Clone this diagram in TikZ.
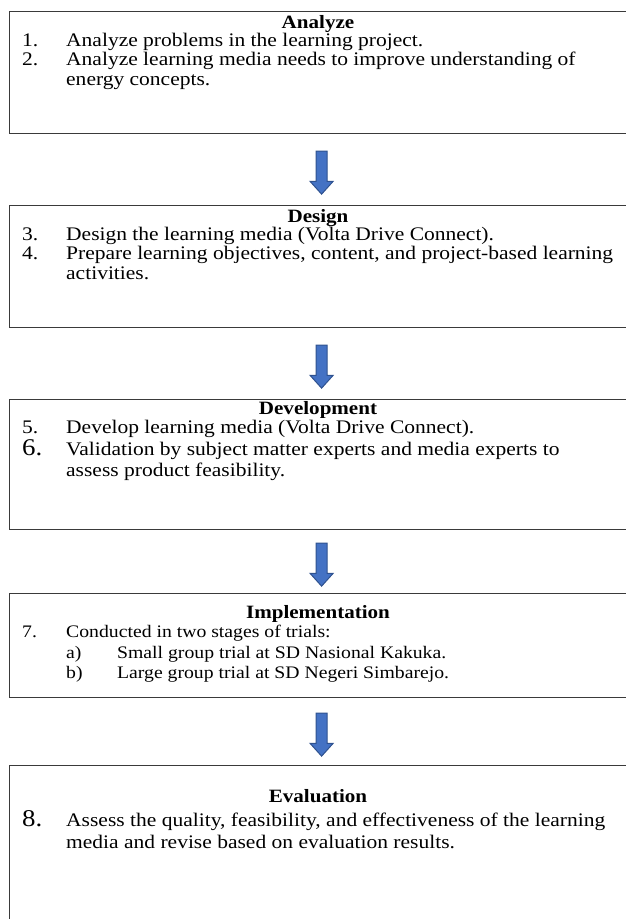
\documentclass[tikz,border=0pt]{standalone}
\usepackage{fontspec}
\setmainfont{Liberation Serif}[FakeStretch=1.12]
\usetikzlibrary{shapes.arrows,calc}
\definecolor{arrowfill}{HTML}{4472C4}
\definecolor{arrowline}{HTML}{2F528F}
\definecolor{frame}{HTML}{3A3A3A}
\begin{document}
\begin{tikzpicture}[x=1pt,y=1pt,
  every node/.style={inner sep=0pt, font=\fontsize{19.2}{22}\selectfont},
  stage/.style={draw=frame, line width=1.2pt, minimum width=624pt, anchor=north west},
  heading/.style={anchor=base, font=\fontsize{18.8}{22}\selectfont\bfseries},
  entry/.style={anchor=base west},
  smallentry/.style={anchor=base west, font=\fontsize{17.6}{20}\selectfont},
  bignum/.style={anchor=base west, font=\fontsize{24}{26}\selectfont},
  flowarrow/.style={single arrow, draw=arrowline, fill=arrowfill, line width=1pt,
    rotate=-90, inner xsep=0pt, inner ysep=5pt, single arrow head extend=6pt,
    single arrow tip angle=84, minimum height=43pt}
]
\useasboundingbox (0,0) rectangle (626,-919);
\clip (0,0) rectangle (626,-919);

% stage frames
\node[stage, minimum height=122pt] (analyze) at (9,-11) {};
\node[stage, minimum height=122pt] (design) at (9,-205) {};
\node[stage, minimum height=130pt] (develop) at (9,-399) {};
\node[stage, minimum height=104pt] (implement) at (9,-593) {};
\node[stage, minimum height=170pt] (evaluate) at (9,-765) {};

% Analyze
\node[heading] (h1) at (318,-28) {Analyze};
\node[entry] (n1) at (22,-46) {1.};
\node[entry] (s1) at (66,-46) {Analyze problems in the learning project.};
\node[entry] (n2) at (22,-65) {2.};
\node[entry] (s2) at (66,-65) {Analyze learning media needs to improve understanding of};
\node[entry] (s2b) at (66,-85) {energy concepts.};

% Design
\node[heading] (h2) at (318,-222) {Design};
\node[entry] (n3) at (22,-240) {3.};
\node[entry] (s3) at (66,-240) {Design the learning media (Volta Drive Connect).};
\node[entry] (n4) at (22,-259) {4.};
\node[entry] (s4) at (66,-259) {Prepare learning objectives, content, and project-based learning};
\node[entry] (s4b) at (66,-279) {activities.};

% Development
\node[heading] (h3) at (318,-414) {Development};
\node[entry] (n5) at (22,-433) {5.};
\node[entry] (s5) at (66,-433) {Develop learning media (Volta Drive Connect).};
\node[bignum] (n6) at (22,-455) {6.};
\node[entry] (s6) at (66,-455) {Validation by subject matter experts and media experts to};
\node[entry] (s6b) at (66,-476) {assess product feasibility.};

% Implementation
\node[heading] (h4) at (318,-618) {Implementation};
\node[smallentry] (n7) at (22,-637) {7.};
\node[smallentry] (s7) at (66,-637) {Conducted in two stages of trials:};
\node[smallentry] (na) at (66,-658) {a)};
\node[smallentry] (sa) at (117,-658) {Small group trial at SD Nasional Kakuka.};
\node[smallentry] (nb) at (66,-678) {b)};
\node[smallentry] (sb) at (117,-678) {Large group trial at SD Negeri Simbarejo.};

% Evaluation
\node[heading] (h5) at (318,-802) {Evaluation};
\node[bignum] (n8) at (22,-826) {8.};
\node[entry] (s8) at (66,-826) {Assess the quality, feasibility, and effectiveness of the learning};
\node[entry] (s8b) at (66,-848) {media and revise based on evaluation results.};

% block arrows between the stages
\node[flowarrow] (a1) at ($(analyze.south)!0.5!(design.north)$) {};
\node[flowarrow] (a2) at ($(design.south)!0.5!(develop.north)$) {};
\node[flowarrow] (a3) at ($(develop.south)!0.5!(implement.north)$) {};
\node[flowarrow] (a4) at ($(implement.south)!0.5!(evaluate.north)$) {};
\end{tikzpicture}
\end{document}
